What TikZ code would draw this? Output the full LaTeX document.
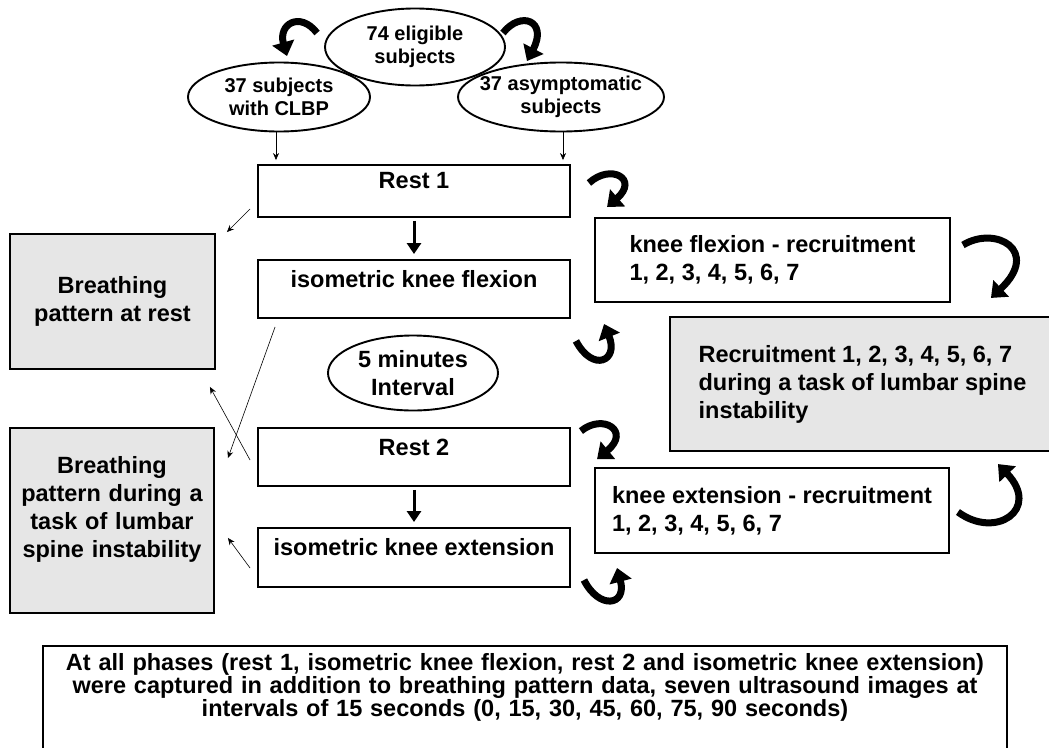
\documentclass[tikz,border=0pt]{standalone}
\usepackage{fontspec}
\setmainfont{Liberation Sans}
\usetikzlibrary{shapes.geometric,arrows.meta}
\definecolor{boxgray}{RGB}{230,230,230}
\newcommand{\boxfont}{\fontsize{23.5}{28}\selectfont\bfseries}
\newcommand{\ovalfont}{\fontsize{20}{23}\selectfont\bfseries}
\newcommand{\notefont}{\fontsize{23.5}{21.7}\selectfont\bfseries}

\begin{document}
\begin{tikzpicture}[x=1pt,y=-1pt,
    oval/.style={ellipse,draw,line width=1.9pt,inner xsep=-30pt,inner ysep=-6pt,align=center},
    phase/.style={rectangle,draw,line width=1.9pt,minimum width=312pt,inner ysep=0pt,font=\boxfont},
    result/.style={rectangle,draw,line width=1.9pt,fill=boxgray,align=center,font=\boxfont},
    recbox/.style={rectangle,draw,line width=1.9pt,align=left,font=\boxfont},
    thinarrow/.style={-{Stealth[length=7pt,width=6pt]},line width=0.6pt},
    downarrow/.style={-{Triangle[length=11pt,width=14pt]},line width=3pt},
    curly/.style={-{Triangle[length=14pt,width=22pt]},line width=7pt}]
\useasboundingbox (0,0) rectangle (1049,747);

% subjects
\node[oval,font=\ovalfont,minimum width=180pt,minimum height=77pt] (elig) at (415,47) {74 eligible\\subjects};
\node[oval,font=\ovalfont,minimum width=182pt,minimum height=69pt] (clbp) at (279,97) {37 subjects\\with CLBP};
\node[oval,font=\ovalfont,minimum width=206pt,minimum height=69pt] (asym) at (561,97) {37 asymptomatic\\subjects};

% phases
\node[phase,text height=23pt,text depth=29pt] (rest1) at (414,191) {Rest 1};
\node[phase,text height=27pt,text depth=31pt] (flex) at (414,289) {isometric knee flexion};
\node[oval,font=\boxfont,minimum width=170pt,minimum height=75pt] (pause) at (413,373) {5 minutes\\Interval};
\node[phase,text height=27pt,text depth=31pt] (rest2) at (414,457) {Rest 2};
\node[phase,text height=27pt,text depth=32pt] (ext) at (414,557.5) {isometric knee extension};

% breathing pattern
\node[result,minimum width=205pt,minimum height=135pt] (brest) at (112.5,301.5) {Breathing\\pattern at rest};
\node[result,anchor=north,text width=196pt,inner xsep=4pt,inner ysep=0pt,text height=46pt,text depth=139pt] (btask) at (112,427)
  {Breathing\\pattern during a\\task of lumbar\\spine instability};

% recruitment
\node[recbox,minimum width=355pt,minimum height=84pt] (kflex) at (772.5,260) {knee flexion - recruitment\\1, 2, 3, 4, 5, 6, 7};
\node[recbox,fill=boxgray,minimum width=385pt,minimum height=134pt] (recr) at (862.5,384)
  {Recruitment 1, 2, 3, 4, 5, 6, 7\\during a task of lumbar spine\\instability};
\node[recbox,minimum width=354pt,minimum height=85pt] (kext) at (772,510.5) {knee extension - recruitment\\1, 2, 3, 4, 5, 6, 7};

% note
\node[rectangle,draw,line width=1.9pt,anchor=north,align=center,font=\notefont,text width=950pt,inner xsep=7pt,inner ysep=0pt,text height=25pt,text depth=140pt] (note) at (525,645)
  {At all phases (rest 1, isometric knee flexion, rest 2 and isometric knee extension)\\
   were captured in addition to breathing pattern data, seven ultrasound images at\\
   intervals of 15 seconds (0, 15, 30, 45, 60, 75, 90 seconds)};

% straight arrows
\draw[thinarrow,shorten >=4pt] ([xshift=-3pt]clbp.south) -- ([xshift=-3pt]clbp.south |- rest1.north);
\draw[thinarrow,shorten >=4pt] ([xshift=2pt]asym.south) -- ([xshift=2pt]asym.south |- rest1.north);
\draw[downarrow,shorten <=3pt,shorten >=5pt] (rest1) -- (flex);
\draw[downarrow,shorten <=3pt,shorten >=5pt] (rest2) -- (ext);
\draw[thinarrow] ([shift={(-7,18)}]rest1.west) -- ([shift={(11,-1)}]brest.north east);
\draw[thinarrow] ([shift={(18,8)}]flex.south west) -- ([shift={(13,31)}]btask.north east);
\draw[thinarrow] ([shift={(-7,3)}]rest2.west) -- ([shift={(-6,17)}]brest.south east);
\draw[thinarrow] ([shift={(-7,10.5)}]ext.west) -- ([shift={(13,17.5)}]btask.east);

% curly arrows
\draw[curly] ([shift={(-7,-14)}]elig.west) .. controls +(-17,-22) and +(-9,-32) .. ([shift={(8,-5.5)}]clbp.north);
\draw[curly] ([shift={(-3,-14)}]elig.east) .. controls +(18,-23) and +(21,-40) .. ([shift={(-34,-0.5)}]asym.north);
\draw[curly] ([shift={(18,-8)}]rest1.east) .. controls +(22,-20) and +(32,-28) .. ([shift={(13,-10)}]kflex.north west);
\draw[curly] ([shift={(5,22)}]flex.south east) .. controls +(17,32) and +(15,37) .. ([shift={(10,21)}]kflex.south west);
\draw[curly] ([shift={(10,4)}]rest2.north east) .. controls +(22,-18) and +(34,-28) .. ([shift={(3,-8)}]kext.north west);
\draw[curly] ([shift={(13,22.5)}]ext.east) .. controls +(15,30) and +(10,38) .. ([shift={(23,14)}]kext.south west);
\draw[curly] ([shift={(12,-15)}]kflex.east) .. controls +(33,-20) and +(50,-47) .. ([shift={(40,-5)}]kflex.south east);
\draw[curly] ([shift={(8,1.5)}]kext.east) .. controls +(38,28) and +(43,45) .. ([shift={(48,-3)}]kext.north east);
\end{tikzpicture}
\end{document}
